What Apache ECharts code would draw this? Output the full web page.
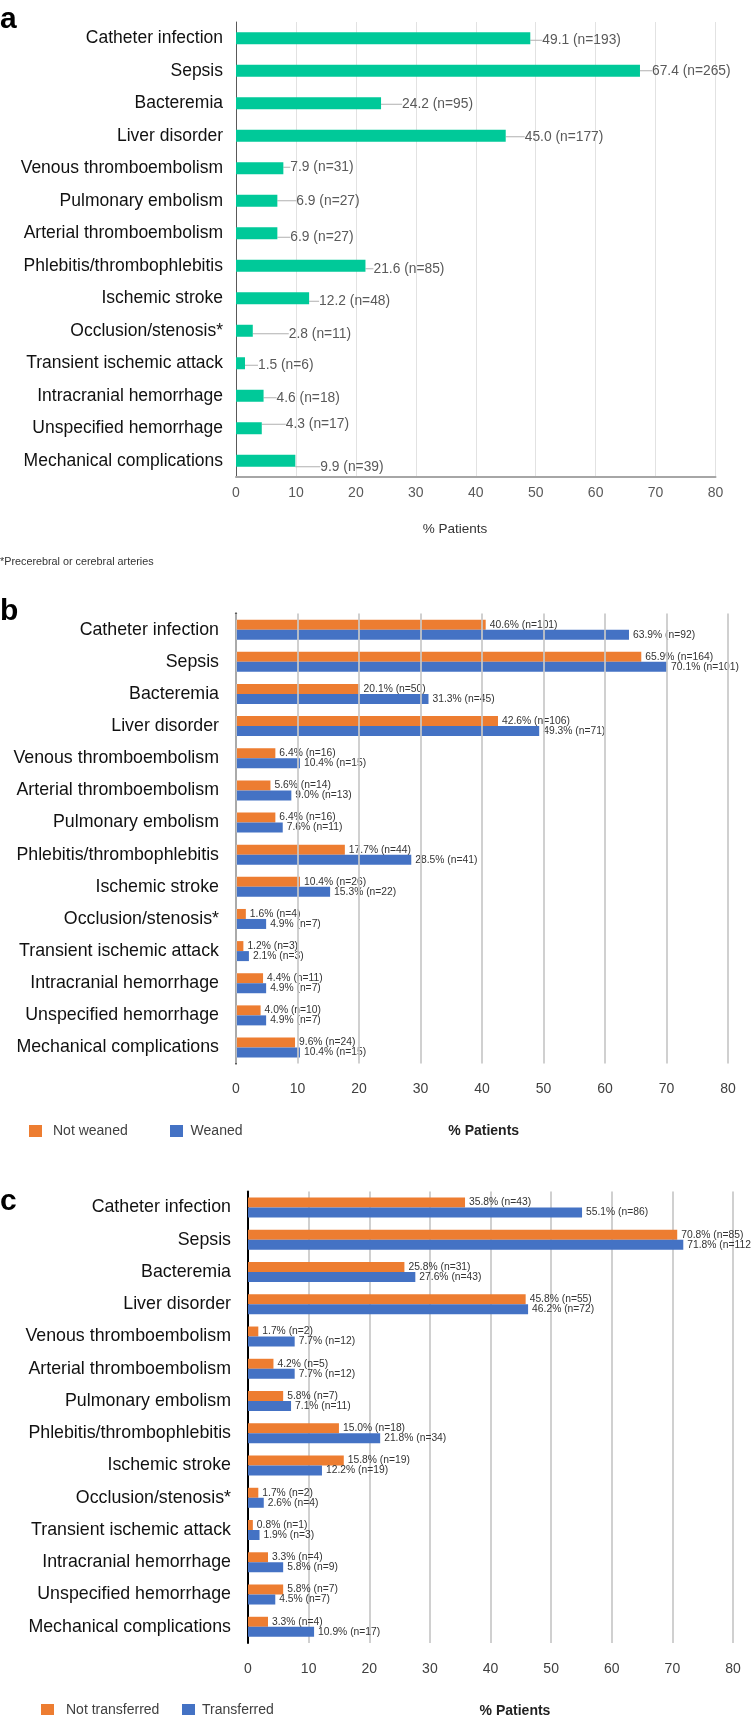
<!DOCTYPE html>
<html><head><meta charset="utf-8">
<script src="https://cdn.jsdelivr.net/npm/echarts@6/dist/echarts.min.js"></script>
<style>html,body{margin:0;padding:0;background:#fff}#c{width:751px;height:1715px}</style>
</head><body><div id="c"></div><script>
// ---------- DATA ----------
const catsA = ['Catheter infection','Sepsis','Bacteremia','Liver disorder','Venous thromboembolism','Pulmonary embolism','Arterial thromboembolism','Phlebitis/thrombophlebitis','Ischemic stroke','Occlusion/stenosis*','Transient ischemic attack','Intracranial hemorrhage','Unspecified hemorrhage','Mechanical complications'];
const pctA = [49.1,67.4,24.2,45.0,7.9,6.9,6.9,21.6,12.2,2.8,1.5,4.6,4.3,9.9];
const nA   = [193,265,95,177,31,27,27,85,48,11,6,18,17,39];

const catsBC = ['Catheter infection','Sepsis','Bacteremia','Liver disorder','Venous thromboembolism','Arterial thromboembolism','Pulmonary embolism','Phlebitis/thrombophlebitis','Ischemic stroke','Occlusion/stenosis*','Transient ischemic attack','Intracranial hemorrhage','Unspecified hemorrhage','Mechanical complications'];
const pctNotWeaned = [40.6,65.9,20.1,42.6,6.4,5.6,6.4,17.7,10.4,1.6,1.2,4.4,4.0,9.6];
const nNotWeaned   = [101,164,50,106,16,14,16,44,26,4,3,11,10,24];
const pctWeaned    = [63.9,70.1,31.3,49.3,10.4,9.0,7.6,28.5,15.3,4.9,2.1,4.9,4.9,10.4];
const nWeaned      = [92,101,45,71,15,13,11,41,22,7,3,7,7,15];

const pctNotTransferred = [35.8,70.8,25.8,45.8,1.7,4.2,5.8,15.0,15.8,1.7,0.8,3.3,5.8,3.3];
const nNotTransferred   = [43,85,31,55,2,5,7,18,19,2,1,4,7,4];
const pctTransferred    = [55.1,71.8,27.6,46.2,7.7,7.7,7.1,21.8,12.2,2.6,1.9,5.8,4.5,10.9];
const nTransferred      = [86,112,43,72,12,12,11,34,19,4,3,9,7,17];

const xMin = 0, xMax = 80, xStep = 10;
const axisTitle = '% Patients';
const footnote = '*Precerebral or cerebral arteries';

// ---------- LAYOUT / STYLE ----------
const FONT = '"Liberation Sans", Arial, Helvetica, sans-serif';
const labelNudgeA = [[12,2],[12,0],[21,1],[19,1],[7,-1],[19,0],[13,4],[8,3],[10,3],[36,3],[13,2],[13,2],[24,-4],[25,6]];
const GREEN = '#00C999', ORANGE = '#ED7D31', BLUE = '#4472C4';

const chart = echarts.init(document.getElementById('c'), null, {renderer:'canvas', width:751, height:1715});

function yAxisCfg(idx, cats, margin, fs, lineColor, lineWidth, padTop) {
  return {
    type:'category', gridIndex: idx, data: cats, inverse: true,
    axisTick:{show:false},
    axisLine:{show:true, lineStyle:{color:lineColor, width:lineWidth}},
    axisLabel:{fontFamily:FONT, fontSize:fs, color:'#111', margin:margin, padding:[padTop,0,0,0]},
    splitLine:{show:false}
  };
}
function xAxisCfg(idx, opts) {
  return Object.assign({
    type:'value', gridIndex: idx, min:xMin, max:xMax, interval:xStep,
    axisTick:{show:false},
    axisLabel:{fontFamily:FONT, fontSize:14, color:'#404040', margin:19}
  }, opts);
}
const pairLabel = (arrN) => ({
  show:true, position:'right', distance:4,
  fontFamily:FONT, fontSize:10.3, color:'#333',
  formatter: p => p.value.toFixed(1) + '% (n=' + arrN[p.dataIndex] + ')'
});

const option = {
  animation:false,
  backgroundColor:'#fff',
  textStyle:{fontFamily:FONT},
  grid:[
    {left:236, top:22, width:479.5, height:455, containLabel:false},
    {left:236, top:613.6, width:492, height:450, containLabel:false},
    {left:248, top:1191.4, width:485, height:451.5, containLabel:false}
  ],
  xAxis:[
    xAxisCfg(0, {axisLine:{show:true, lineStyle:{color:'#a6a6a6', width:2}},
      splitLine:{show:true, lineStyle:{color:'#e2e2e2', width:1}},
      axisLabel:{fontFamily:FONT, fontSize:14, color:'#595959', margin:9}}),
    xAxisCfg(1, {z:5, axisLine:{show:false},
      splitLine:{show:true, lineStyle:{color:'rgba(200,200,200,0.85)', width:2}}}),
    xAxisCfg(2, {axisLine:{show:false},
      splitLine:{show:true, lineStyle:{color:'#d0d0d0', width:2}}})
  ],
  yAxis:[
    yAxisCfg(0, catsA, 13, 17.5, '#595959', 1, 0),
    yAxisCfg(1, catsBC, 17, 17.8, '#000', 2, 9),
    yAxisCfg(2, catsBC, 17, 17.8, '#000', 2, 9)
  ],
  legend:[
    {data:['Not weaned'], left:29, top:1124, padding:0, itemWidth:13, itemHeight:12, icon:'rect', selectedMode:false,
      textStyle:{fontFamily:FONT, fontSize:14, color:'#404040', padding:[0,0,0,6]}},
    {data:['Weaned'], left:170, top:1124, padding:0, itemWidth:13, itemHeight:12, icon:'rect', selectedMode:false,
      textStyle:{fontFamily:FONT, fontSize:14, color:'#404040', padding:[0,0,0,2.6]}},
    {data:['Not transferred'], left:41, top:1703, padding:0, itemWidth:13, itemHeight:12, icon:'rect', selectedMode:false,
      textStyle:{fontFamily:FONT, fontSize:14, color:'#404040', padding:[0,0,0,7]}},
    {data:['Transferred'], left:182, top:1703, padding:0, itemWidth:13, itemHeight:12, icon:'rect', selectedMode:false,
      textStyle:{fontFamily:FONT, fontSize:14, color:'#404040', padding:[0,0,0,2]}}
  ],
  series:[
    {
      name:'All patients', type:'bar', xAxisIndex:0, yAxisIndex:0, data:pctA, barWidth:12,
      itemStyle:{color:GREEN},
      label:{show:true, position:'right', distance:0, fontFamily:FONT, fontSize:13.8, color:'#595959',
        formatter: p => p.value.toFixed(1) + ' (n=' + nA[p.dataIndex] + ')'},
      labelLayout: p => ({dx: labelNudgeA[p.dataIndex][0], dy: labelNudgeA[p.dataIndex][1]}),
      labelLine:{show:true, lineStyle:{color:'#b0b0b0', width:1}}
    },
    {name:'Not weaned', type:'bar', xAxisIndex:1, yAxisIndex:1, data:pctNotWeaned, barWidth:10, barGap:'0%',
      itemStyle:{color:ORANGE}, label:pairLabel(nNotWeaned)},
    {name:'Weaned', type:'bar', xAxisIndex:1, yAxisIndex:1, data:pctWeaned, barWidth:10, barGap:'0%',
      itemStyle:{color:BLUE}, label:pairLabel(nWeaned)},
    {name:'Not transferred', type:'bar', xAxisIndex:2, yAxisIndex:2, data:pctNotTransferred, barWidth:10, barGap:'0%',
      itemStyle:{color:ORANGE}, label:pairLabel(nNotTransferred)},
    {name:'Transferred', type:'bar', xAxisIndex:2, yAxisIndex:2, data:pctTransferred, barWidth:10, barGap:'0%',
      itemStyle:{color:BLUE}, label:pairLabel(nTransferred)}
  ],
  graphic:[
    {type:'text', left:0, top:5, style:{text:'a', font:'bold 30px '+FONT, fill:'#000'}},
    {type:'text', x:455, y:529, style:{text:axisTitle, fontFamily:FONT, fontSize:13.5, fill:'#333', align:'center', verticalAlign:'middle'}},
    {type:'text', x:0, y:562, style:{text:footnote, fontFamily:FONT, fontSize:10.8, fill:'#333', align:'left', verticalAlign:'middle'}},
    {type:'text', left:0, top:597, style:{text:'b', font:'bold 30px '+FONT, fill:'#000'}},
    {type:'text', x:483.7, y:1131, style:{text:axisTitle, fontFamily:FONT, fontSize:14, fontWeight:'bold', fill:'#222', align:'center', verticalAlign:'middle'}},
    {type:'text', left:0, top:1187, style:{text:'c', font:'bold 30px '+FONT, fill:'#000'}},
    {type:'text', x:515, y:1711, style:{text:axisTitle, fontFamily:FONT, fontSize:14, fontWeight:'bold', fill:'#222', align:'center', verticalAlign:'middle'}}
  ]
};
chart.setOption(option);
</script></body></html>
